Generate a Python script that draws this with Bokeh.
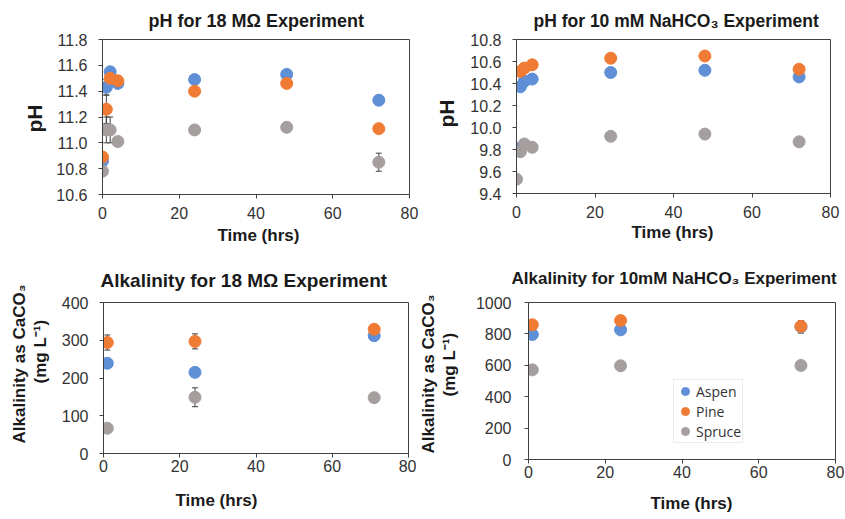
from bokeh.plotting import figure
from bokeh.models import (Range1d, FixedTicker, NumeralTickFormatter, Title,
                          ColumnDataSource, Whisker, TeeHead, Legend, LegendItem)
from bokeh.layouts import column, row
from bokeh.embed import file_html
from bokeh.resources import INLINE

# ---------------- data ----------------
series_names = ["Aspen", "Pine", "Spruce"]
colors = ["#5F8FD6", "#F07B35", "#A49F9E"]

t_ph = [0, 1, 2, 4, 24, 48, 72]
aspen_ph18 = [10.86, 11.43, 11.55, 11.46, 11.49, 11.53, 11.33]
pine_ph18 = [10.89, 11.26, 11.50, 11.48, 11.40, 11.46, 11.11]
spruce_ph18 = [10.78, 11.10, 11.10, 11.01, 11.10, 11.12, 10.85]
aspen_ph18_err = [0.02, 0.06, 0.02, 0.02, 0.02, 0.02, 0.03]
pine_ph18_err = [0.02, 0.11, 0.03, 0.04, 0.02, 0.02, 0.02]
spruce_ph18_err = [0.02, 0.10, 0.10, 0.02, 0.02, 0.02, 0.07]

aspen_ph10 = [9.81, 10.37, 10.42, 10.44, 10.50, 10.52, 10.46]
pine_ph10 = [float("nan"), 10.51, 10.54, 10.57, 10.63, 10.65, 10.53]
spruce_ph10 = [9.53, 9.78, 9.85, 9.82, 9.92, 9.94, 9.87]
aspen_ph10_err = [0.01, 0.02, 0.02, 0.02, 0.02, 0.02, 0.02]
pine_ph10_err = [0.0, 0.02, 0.02, 0.02, 0.02, 0.04, 0.02]
spruce_ph10_err = [0.02, 0.02, 0.02, 0.02, 0.03, 0.02, 0.02]

t_alk = [1, 24, 71]
aspen_alk18 = [239, 215, 312]
pine_alk18 = [294, 297, 329]
spruce_alk18 = [67, 149, 148]
aspen_alk18_err = [5, 5, 10]
pine_alk18_err = [20, 20, 8]
spruce_alk18_err = [5, 25, 5]

aspen_alk10 = [796, 826, 845]
pine_alk10 = [858, 885, 848]
spruce_alk10 = [571, 597, 599]
aspen_alk10_err = [10, 10, 40]
pine_alk10_err = [10, 10, 20]
spruce_alk10_err = [10, 10, 10]

x_ticks = [0, 20, 40, 60, 80]
ph18_ticks = [10.6, 10.8, 11.0, 11.2, 11.4, 11.6, 11.8]
ph10_ticks = [9.4, 9.6, 9.8, 10.0, 10.2, 10.4, 10.6, 10.8]
alk18_ticks = [0, 100, 200, 300, 400]
alk10_ticks = [0, 200, 400, 600, 800, 1000]

FONT = "Liberation Sans"
AXIS_COLOR = "#404040"
TEXT_COLOR = "#333333"
DARK = "#1a1a1a"


def make_panel(title, title_font, title_offset, title_standoff, x_t, series, errs,
               y_range, y_ticks, y_fmt, ylabels, spacer, frame, borders,
               xlabel_offset, xlabel_standoff, x_label_standoff, y_label_standoff):
    fw, fh = frame
    bl, br, bt, bb = borders
    p = figure(frame_width=fw, frame_height=fh,
               min_border_left=bl, min_border_right=br,
               min_border_top=bt, min_border_bottom=bb,
               x_range=Range1d(0, 80), y_range=Range1d(*y_range),
               output_backend="svg", toolbar_location=None,
               background_fill_color="white", border_fill_color="white")
    p.title.text = title
    p.title.align = "left"
    p.title.offset = title_offset
    p.title.text_font = FONT
    p.title.text_font_size = title_font
    p.title.text_font_style = "bold"
    p.title.text_color = DARK
    p.title.standoff = title_standoff

    p.xgrid.visible = False
    p.ygrid.visible = False
    p.outline_line_color = AXIS_COLOR
    p.outline_line_width = 1

    for ax in (p.xaxis[0], p.yaxis[0]):
        ax.axis_line_color = AXIS_COLOR
        ax.major_tick_line_color = AXIS_COLOR
        ax.minor_tick_line_color = None
        ax.major_tick_out = 4
        ax.major_tick_in = 0
        ax.major_label_text_font = FONT
        ax.major_label_text_font_size = "16px"
        ax.major_label_text_color = TEXT_COLOR
    p.xaxis[0].major_label_standoff = x_label_standoff
    p.yaxis[0].major_label_standoff = y_label_standoff
    p.xaxis[0].ticker = FixedTicker(ticks=x_ticks)
    p.xaxis[0].formatter = NumeralTickFormatter(format="0")
    p.yaxis[0].ticker = FixedTicker(ticks=y_ticks)
    p.yaxis[0].formatter = NumeralTickFormatter(format=y_fmt)

    renderers = []
    for name, color, ys, es in zip(series_names, colors, series, errs):
        src = ColumnDataSource(dict(
            x=x_t, y=ys,
            upper=[a + b for a, b in zip(ys, es)],
            lower=[a - b for a, b in zip(ys, es)]))
        w = Whisker(source=src, base="x", upper="upper", lower="lower",
                    dimension="height", line_color=AXIS_COLOR, line_width=1,
                    upper_head=TeeHead(size=6, line_color=AXIS_COLOR),
                    lower_head=TeeHead(size=6, line_color=AXIS_COLOR),
                    level="underlay")
        p.add_layout(w)
        r = p.scatter("x", "y", source=src, size=12, marker="circle",
                      fill_color=color, line_color=color)
        renderers.append(r)

    p.add_layout(Title(text="Time (hrs)", align="left", offset=xlabel_offset,
                       text_font=FONT, text_font_size="17px", text_font_style="bold",
                       text_color=DARK, standoff=xlabel_standoff), "below")

    # y-axis title lines, stacked outward from the axis
    if spacer:
        p.add_layout(Title(text=" ", text_font_size="1px", standoff=spacer,
                           text_color="white"), "left")
    for text, off, so, size, lh in ylabels:
        p.add_layout(Title(text=text, align="left", offset=off,
                           text_font=FONT, text_font_size=size, text_font_style="bold",
                           text_line_height=lh,
                           text_color=DARK, standoff=so), "left")
    return p, renderers


p1, _ = make_panel("pH for 18 M\u03a9 Experiment", "18px", 46, 17, t_ph,
                   [aspen_ph18, pine_ph18, spruce_ph18],
                   [aspen_ph18_err, pine_ph18_err, spruce_ph18_err],
                   (10.6, 11.8), ph18_ticks, "0.0",
                   [("pH", 62, 16, "21px", 1.0)], 0,
                   (307, 155), (102, 11, 39, 58), 115, 4, 8, 11)

p2, _ = make_panel("pH for 10 mM NaHCO\u2083 Experiment", "17.5px", 17, 17, t_ph,
                   [aspen_ph10, pine_ph10, spruce_ph10],
                   [aspen_ph10_err, pine_ph10_err, spruce_ph10_err],
                   (9.4, 10.8), ph10_ticks, "0.0",
                   [("pH", 66, 20, "21px", 1.0)], 0,
                   (314, 154), (96, 10, 39, 59), 115, 0, 8, 11)

p3, _ = make_panel("Alkalinity for 18 M\u03a9 Experiment", "19px", -3, 23, t_alk,
                   [aspen_alk18, pine_alk18, spruce_alk18],
                   [aspen_alk18_err, pine_alk18_err, spruce_alk18_err],
                   (0, 400), alk18_ticks, "0",
                   [("(mg L\u207b\u00b9)", 70, 0, "17px", 0.85),
                    ("Alkalinity as CaCO\u2083", 10, 0, "17px", 0.85)], 6,
                   (305, 151), (103, 8, 49, 62), 72, 28, 2, 11)

p4, r4 = make_panel("Alkalinity for 10mM NaHCO\u2083 Experiment", "17px", -17, 29, t_alk,
                    [aspen_alk10, pine_alk10, spruce_alk10],
                    [aspen_alk10_err, pine_alk10_err, spruce_alk10_err],
                    (0, 1000), alk10_ticks, "0",
                    [("(mg L\u207b\u00b9)", 63, 0, "17px", 0.85),
                     ("Alkalinity as CaCO\u2083", 6, 0, "17px", 0.85)], 11,
                    (307, 157), (112, 9, 50, 56), 122, 22, 2, 13)

legend = Legend(items=[LegendItem(label=n, renderers=[r]) for n, r in zip(series_names, r4)],
                location=(145, 16), orientation="vertical",
                label_text_font="Open Sans", label_text_font_size="14px",
                label_text_color=TEXT_COLOR, label_height=19,
                glyph_width=20, glyph_height=20, spacing=0,
                label_standoff=1, padding=1, margin=0,
                border_line_color="#D9D9D9", background_fill_color="white",
                background_fill_alpha=1.0)
p4.add_layout(legend, "center")

layout = column(row(p1, p2), row(p3, p4))

with open("out.html", "w") as f:
    f.write(file_html(layout, INLINE))
